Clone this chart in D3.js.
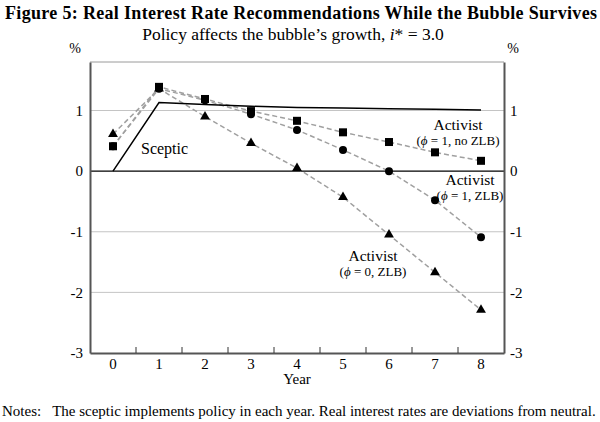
<!DOCTYPE html>
<html>
<head>
<meta charset="utf-8">
<script src="https://cdn.jsdelivr.net/npm/d3@7"></script>
<style>
body { margin: 0; background: #fff; }
svg text { font-family: "Liberation Serif", "Times New Roman", serif; fill: #000; }
</style>
</head>
<body>
<div id="chart"></div>
<script>
var years = [0, 1, 2, 3, 4, 5, 6, 7, 8];
var sceptic = [0, 1.13, 1.10, 1.07, 1.05, 1.04, 1.03, 1.02, 1.01];
var activistNoZlb = [0.41, 1.39, 1.19, 0.99, 0.83, 0.64, 0.48, 0.31, 0.17];
var activistZlb = [0.41, 1.36, 1.17, 0.94, 0.68, 0.35, 0.0, -0.48, -1.09];
var activistPhi0 = [0.61, 1.36, 0.90, 0.46, 0.05, -0.43, -1.05, -1.67, -2.29];
var yTicks = [-3, -2, -1, 0, 1];
var gridVals = [-2, -1, 1];

var width = 600, height = 422;
var plot = { left: 90, right: 504, top: 62, bottom: 353 };

var svg = d3.select("#chart").append("svg")
    .attr("width", width)
    .attr("height", height);

var x = d3.scaleBand()
    .domain(years)
    .range([plot.left, plot.right]);

var y = d3.scaleLinear()
    .domain([-3, 1.8])
    .range([plot.bottom, plot.top]);

function cx(d, i) { return x(years[i]) + x.bandwidth() / 2; }
var fmt = d => String(d); // plain hyphen minus like the original

// titles
svg.append("text")
    .attr("x", 301).attr("y", 19)
    .attr("text-anchor", "middle")
    .attr("textLength", 592)
    .style("font-size", "18px").style("font-weight", "bold")
    .text("Figure 5: Real Interest Rate Recommendations While the Bubble Survives");

var sub = svg.append("text")
    .attr("x", 293).attr("y", 40)
    .attr("text-anchor", "middle")
    .style("font-size", "17.5px");
sub.append("tspan").text("Policy affects the bubble\u2019s growth, ");
sub.append("tspan").style("font-style", "italic").text("i");
sub.append("tspan").text("* = 3.0");

// gridlines
svg.append("g").selectAll("line")
    .data(gridVals)
    .enter().append("line")
    .attr("x1", plot.left).attr("x2", plot.right)
    .attr("y1", d => y(d)).attr("y2", d => y(d))
    .attr("stroke", "#c4c4c4").attr("stroke-width", 1);

// top frame
svg.append("line")
    .attr("x1", plot.left).attr("x2", plot.right)
    .attr("y1", plot.top).attr("y2", plot.top)
    .attr("stroke", "#9a9a9a").attr("stroke-width", 1);

// zero line
svg.append("line")
    .attr("x1", plot.left).attr("x2", plot.right)
    .attr("y1", y(0)).attr("y2", y(0))
    .attr("stroke", "#000").attr("stroke-width", 1.2);

// axes
var leftAxis = svg.append("g")
    .attr("transform", "translate(" + plot.left + ",0)")
    .call(d3.axisLeft(y).tickValues(yTicks).tickSize(0).tickPadding(7).tickFormat(fmt));
var rightAxis = svg.append("g")
    .attr("transform", "translate(" + plot.right + ",0)")
    .call(d3.axisRight(y).tickValues(yTicks).tickSize(0).tickPadding(6).tickFormat(fmt));
[leftAxis, rightAxis].forEach(function(g) {
    g.select(".domain").attr("stroke", "#555").attr("stroke-width", 2);
    g.selectAll("text").style("font-size", "15px").attr("font-family", null);
});

var bottomAxis = svg.append("g")
    .attr("transform", "translate(0," + plot.bottom + ")")
    .call(d3.axisBottom(x).tickSize(0).tickPadding(5));
bottomAxis.select(".domain").attr("stroke", "#555").attr("stroke-width", 2);
bottomAxis.selectAll("text").style("font-size", "15px").attr("font-family", null);

// inner ticks at band edges
svg.append("g").selectAll("line")
    .data(years.slice(1))
    .enter().append("line")
    .attr("x1", d => x(d)).attr("x2", d => x(d))
    .attr("y1", plot.bottom).attr("y2", plot.bottom - 6)
    .attr("stroke", "#333").attr("stroke-width", 1);

svg.append("text").attr("x", 75).attr("y", 53)
    .attr("text-anchor", "middle").style("font-size", "14px").text("%");
svg.append("text").attr("x", 513).attr("y", 53)
    .attr("text-anchor", "middle").style("font-size", "14px").text("%");
svg.append("text").attr("x", x(4) + x.bandwidth() / 2).attr("y", 384)
    .attr("text-anchor", "middle").style("font-size", "15px").text("Year");

// series lines
var line = d3.line().x(cx).y(d => y(d));

[activistNoZlb, activistZlb, activistPhi0].forEach(function(s) {
    svg.append("path")
        .datum(s)
        .attr("d", line)
        .attr("fill", "none")
        .attr("stroke", "#a0a0a0")
        .attr("stroke-width", 1.5)
        .attr("stroke-dasharray", "5,3");
});

svg.append("path")
    .datum(sceptic)
    .attr("d", line)
    .attr("fill", "none")
    .attr("stroke", "#000")
    .attr("stroke-width", 1.5);

// markers
svg.append("g").selectAll("rect")
    .data(activistNoZlb)
    .enter().append("rect")
    .attr("x", (d, i) => cx(d, i) - 4)
    .attr("y", d => y(d) - 4)
    .attr("width", 8).attr("height", 8)
    .attr("fill", "#000");

svg.append("g").selectAll("circle")
    .data(activistZlb)
    .enter().append("circle")
    .attr("cx", cx)
    .attr("cy", d => y(d))
    .attr("r", 4)
    .attr("fill", "#000");

var tri = d3.symbol().type(d3.symbolTriangle).size(42);
svg.append("g").selectAll("path")
    .data(activistPhi0)
    .enter().append("path")
    .attr("d", tri)
    .attr("transform", (d, i) => "translate(" + cx(d, i) + "," + y(d) + ")")
    .attr("fill", "#000");

// annotations
svg.append("text").attr("x", 141).attr("y", 154)
    .attr("text-anchor", "start").style("font-size", "16px").text("Sceptic");

function label(xp, yp, sub1, sub2) {
    svg.append("text").attr("x", xp).attr("y", yp)
        .attr("text-anchor", "middle").style("font-size", "15.5px").text("Activist");
    var t = svg.append("text").attr("x", xp).attr("y", yp + 14.5)
        .attr("text-anchor", "middle").style("font-size", "13px");
    t.append("tspan").text("(");
    t.append("tspan").style("font-style", "italic").text("\u03d5");
    t.append("tspan").text(" = " + sub1 + ", " + sub2 + ")");
}
label(458, 130, "1", "no ZLB");
label(470, 185, "1", "ZLB");
label(373, 261, "0", "ZLB");

// notes
svg.append("text").attr("x", 2).attr("y", 416)
    .style("font-size", "15px")
    .attr("xml:space", "preserve")
    .text("Notes:   The sceptic implements policy in each year. Real interest rates are deviations from neutral.");
</script>
</body>
</html>
